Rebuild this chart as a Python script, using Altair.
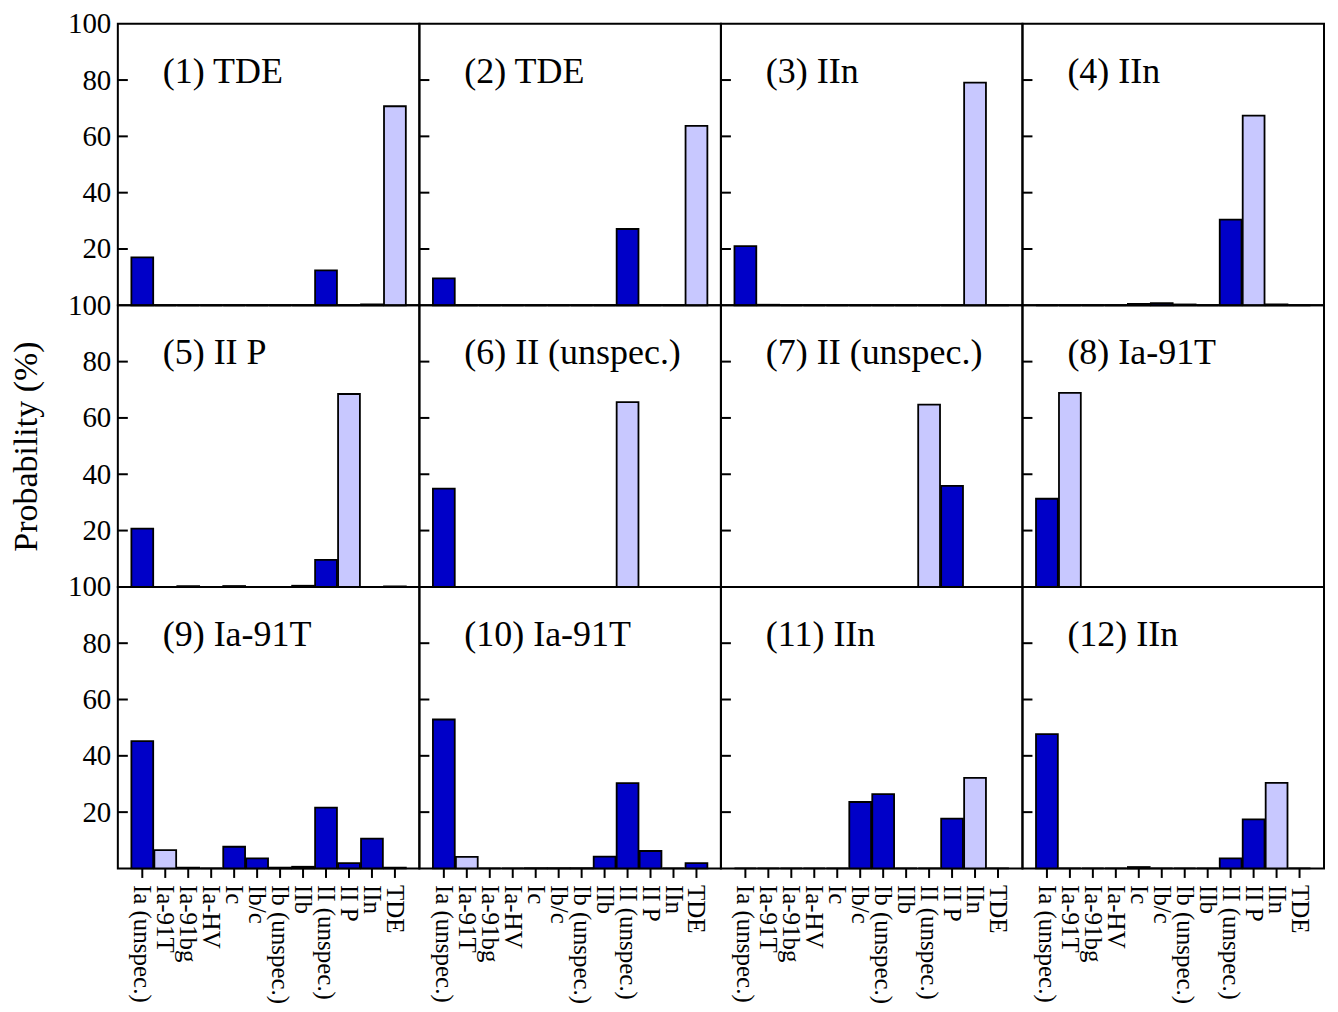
import altair as alt
import pandas as pd

categories = ["Ia (unspec.)", "Ia-91T", "Ia-91bg", "Ia-HV", "Ic", "Ib/c",
              "Ib (unspec.)", "IIb", "II (unspec.)", "II P", "IIn", "TDE"]

panel_labels = ["(1) TDE", "(2) TDE", "(3) IIn", "(4) IIn",
                "(5) II P", "(6) II (unspec.)", "(7) II (unspec.)", "(8) Ia-91T",
                "(9) Ia-91T", "(10) Ia-91T", "(11) IIn", "(12) IIn"]

p1 = [17.0, 0, 0, 0, 0, 0, 0, 0, 12.4, 0, 0.3, 70.7]
p2 = [9.6, 0, 0, 0, 0, 0, 0, 0, 27.1, 0, 0, 63.7]
p3 = [21.0, 0.2, 0, 0, 0, 0, 0, 0, 0, 0, 79.1, 0]
p4 = [0, 0, 0, 0, 0.5, 0.8, 0.3, 0, 30.4, 67.4, 0.3, 0]
p5 = [20.7, 0, 0.3, 0, 0.3, 0, 0, 0.4, 9.6, 68.5, 0, 0.2]
p6 = [34.9, 0, 0, 0, 0, 0, 0, 0, 65.6, 0, 0, 0]
p7 = [0, 0, 0, 0, 0, 0, 0, 0, 64.7, 35.9, 0, 0]
p8 = [31.3, 68.9, 0, 0, 0, 0, 0, 0, 0, 0, 0, 0]
p9 = [45.2, 6.5, 0.3, 0, 7.7, 3.6, 0.3, 0.6, 21.6, 1.9, 10.6, 0.3]
p10 = [52.9, 4.1, 0, 0, 0.1, 0.1, 0.1, 4.2, 30.3, 6.2, 0, 1.9]
p11 = [0, 0, 0, 0, 0, 23.6, 26.4, 0, 0, 17.7, 32.2, 0]
p12 = [47.7, 0, 0, 0, 0.5, 0, 0, 0, 3.6, 17.4, 30.4, 0]
panel_values = [p1, p2, p3, p4, p5, p6, p7, p8, p9, p10, p11, p12]

highlight_idx = [11, 11, 10, 9, 9, 8, 8, 1, 1, 1, 10, 10]

inner_tick_values = [20, 40, 60, 80]
ylabel_values = [20, 40, 60, 80, 100]

DARK = "#0000C8"
LIGHT = "#C8C8FF"
FONT = "Liberation Serif"
W, H = 302, 282

xscale = alt.Scale(domain=categories, paddingInner=0.05, paddingOuter=0.59)
yscale = alt.Scale(domain=[0, 100], nice=False, zero=True)

panels = []
for i in range(12):
    row, col = divmod(i, 4)
    df = pd.DataFrame({
        "cat": categories,
        "val": panel_values[i],
        "hl": ["light" if j == highlight_idx[i] else "dark" for j in range(len(categories))],
    })

    if row == 2:
        xax = alt.Axis(labelAngle=90, labelAlign="left", labelBaseline="middle",
                       labelFont=FONT, labelFontSize=25, labelColor="black",
                       labelOverlap=False, labelPadding=7, labelLimit=300,
                       tickSize=9, tickWidth=2, tickColor="black",
                       domain=False, grid=False)
    else:
        xax = None

    ytitle = "Probability (%)" if (col == 0 and row == 1) else None
    if col == 0:
        yax = alt.Axis(values=ylabel_values, ticks=False, domain=False, grid=False,
                       labelFont=FONT, labelFontSize=29, labelColor="black",
                       labelPadding=7, titleFont=FONT,
                       titleFontSize=34, titleFontWeight="normal",
                       titleColor="black", titlePadding=24)
    else:
        yax = None

    bars = alt.Chart(df).mark_bar(stroke="black", strokeWidth=1.8, opacity=1).encode(
        x=alt.X("cat:N", sort=categories, scale=xscale, axis=xax, title=None),
        y=alt.Y("val:Q", scale=yscale, axis=yax, title=ytitle),
        color=alt.Color("hl:N", scale=alt.Scale(domain=["dark", "light"], range=[DARK, LIGHT]),
                        legend=None),
    )

    ticks = alt.Chart(pd.DataFrame({"t": inner_tick_values})).mark_rule(
        color="black", strokeWidth=2
    ).encode(
        y=alt.Y("t:Q", scale=yscale, axis=yax, title=ytitle),
        x=alt.value(0),
        x2=alt.value(10),
    )

    label = alt.Chart(pd.DataFrame({"label": [panel_labels[i]]})).mark_text(
        font=FONT, fontSize=36, align="left", baseline="alphabetic", color="black"
    ).encode(
        text="label:N",
        x=alt.value(45),
        y=alt.value(59),
    )

    panels.append(alt.layer(bars, ticks, label).properties(width=W, height=H))

chart = alt.concat(*panels, columns=4, spacing=0, bounds="flush").configure_view(
    stroke="black", strokeWidth=2
).configure_axis(
    labelFont=FONT, titleFont=FONT, titleFontWeight="normal"
).configure_text(
    font=FONT
).properties(
    padding={"left": 0, "top": 0, "right": 5, "bottom": 0}
)

chart.save("out.html", embed_options={"renderer": "svg", "actions": False})
